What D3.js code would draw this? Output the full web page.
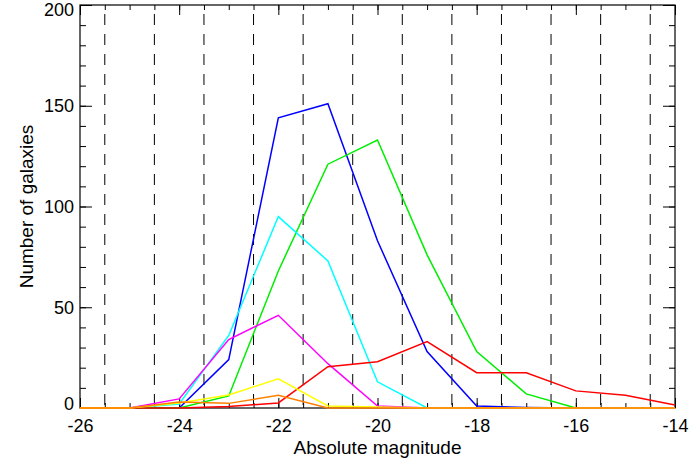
<!DOCTYPE html>
<html>
<head>
<meta charset="utf-8">
<script src="https://cdn.jsdelivr.net/npm/d3@7"></script>
<style>
  body { margin: 0; background: #fff; }
  text { font-family: "Liberation Sans", Arial, sans-serif; }
</style>
</head>
<body>
<script>
// galaxy counts per absolute magnitude bin, one series per colour
var mags = [-26, -25, -24, -23, -22, -21, -20, -19, -18, -17, -16, -15, -14];
var blueCounts    = [0, 0, 0, 24, 144, 151, 83, 28, 1, 0.3, 0, 0, 0];
var greenCounts   = [0, 0, 0, 6, 68, 121, 133, 76, 28, 7, 0, 0, 0];
var cyanCounts    = [0, 0, 2, 36, 95, 73, 13, 0, 0, 0, 0, 0, 0];
var magentaCounts = [0, 0, 4.5, 34, 46, 22, 1, 0, 0, 0, 0, 0, 0];
var redCounts     = [0, 0, 0, 0.8, 2.5, 20.5, 23, 33, 17.5, 17.5, 8.5, 6.3, 1.5];
var yellowCounts  = [0, 0, 2.5, 6.5, 14.5, 1, 0.5, 0, 0, 0, 0, 0, 0];
var orangeCounts  = [0, 0, 3, 2.3, 6.3, 0, 0, 0, 0, 0, 0, 0, 0];

var xLabels = [-26, -24, -22, -20, -18, -16, -14];
var yLabels = [0, 50, 100, 150, 200];
var dashedAt = [-25.5, -24.5, -23.5, -22.5, -21.5, -20.5, -19.5, -18.5, -17.5, -16.5, -15.5, -14.5];

var series = [
    {vals: blueCounts, color: '#0000ff'},
    {vals: greenCounts, color: '#00ee00'},
    {vals: cyanCounts, color: '#00ffff'},
    {vals: magentaCounts, color: '#ff00ff'},
    {vals: redCounts, color: '#ff0000'},
    {vals: yellowCounts, color: '#ffff00'},
    {vals: orangeCounts, color: '#ff8000'}
];

var W = 689, H = 465;
var plotL = 80, plotR = 675, plotT = 5, plotB = 408;

var svg = d3.select("body")
        .append("svg")
        .attr("width", W)
        .attr("height", H);

var x = d3.scaleLinear().domain([-26, -14]).range([plotL, plotR]);
var y = d3.scaleLinear().domain([0, 200]).range([plotB, plotT]);

// dashed verticals
svg.selectAll("line.dash")
    .data(dashedAt)
    .enter()
    .append("line")
    .attr("class", "dash")
    .attr("x1", function(d) { return x(d); })
    .attr("x2", function(d) { return x(d); })
    .attr("y1", plotT)
    .attr("y2", plotB)
    .attr("stroke", "#000")
    .attr("stroke-width", 1)
    .attr("stroke-dasharray", "11,9")
    .attr("stroke-dashoffset", 11);

var minorX = d3.range(-26, -13.99, 0.5);
var minorY = d3.range(0, 200.1, 10);
var plain = function(d) { return String(d); };

function noText(g) { g.selectAll("text").remove(); g.select(".domain").remove(); }

// bottom
svg.append("g").attr("transform", "translate(0," + plotB + ")")
    .call(d3.axisBottom(x).tickValues(minorX).tickSize(-5)).call(noText);
var bx = svg.append("g").attr("transform", "translate(0," + plotB + ")")
    .call(d3.axisBottom(x).tickValues(xLabels).tickSize(-10).tickPadding(11).tickFormat(plain));
bx.select(".domain").remove();
// top
svg.append("g").attr("transform", "translate(0," + plotT + ")")
    .call(d3.axisTop(x).tickValues(minorX).tickSize(-5)).call(noText);
svg.append("g").attr("transform", "translate(0," + plotT + ")")
    .call(d3.axisTop(x).tickValues(xLabels).tickSize(-10)).call(noText);
// left
svg.append("g").attr("transform", "translate(" + plotL + ",0)")
    .call(d3.axisLeft(y).tickValues(minorY).tickSize(-6)).call(noText);
var ly = svg.append("g").attr("transform", "translate(" + plotL + ",0)")
    .call(d3.axisLeft(y).tickValues(yLabels).tickSize(-12).tickPadding(6).tickFormat(plain));
ly.select(".domain").remove();
// end labels are nudged inside the picture, like the original
ly.selectAll(".tick text").attr("dy", function(d) {
    if (d === 200) return "0.6em";
    if (d === 0) return "0.1em";
    return "0.32em";
});
// right
svg.append("g").attr("transform", "translate(" + plotR + ",0)")
    .call(d3.axisRight(y).tickValues(minorY).tickSize(-6)).call(noText);
svg.append("g").attr("transform", "translate(" + plotR + ",0)")
    .call(d3.axisRight(y).tickValues(yLabels).tickSize(-12)).call(noText);

svg.selectAll(".tick line").attr("stroke", "#000");
svg.selectAll(".tick text").attr("font-size", 18).attr("fill", "#000")
    .style("font-family", "'Liberation Sans', Arial, sans-serif");

// frame
svg.append("rect")
    .attr("x", plotL).attr("y", plotT)
    .attr("width", plotR - plotL).attr("height", plotB - plotT)
    .attr("fill", "none").attr("stroke", "#000").attr("stroke-width", 1.2);

var line = d3.line()
    .x(function(d, i) { return x(mags[i]); })
    .y(function(d) { return y(d); });

svg.selectAll("path.series")
    .data(series)
    .enter()
    .append("path")
    .attr("class", "series")
    .attr("d", function(d) { return line(d.vals); })
    .attr("fill", "none")
    .attr("stroke", function(d) { return d.color; })
    .attr("stroke-width", 1.5);

svg.append("text")
    .attr("x", (plotL + plotR) / 2)
    .attr("y", 454)
    .attr("text-anchor", "middle")
    .attr("font-size", 19)
    .text("Absolute magnitude");

svg.append("text")
    .attr("transform", "translate(33," + ((plotT + plotB) / 2) + ") rotate(-90)")
    .attr("text-anchor", "middle")
    .attr("font-size", 19)
    .text("Number of galaxies");
</script>
</body>
</html>
